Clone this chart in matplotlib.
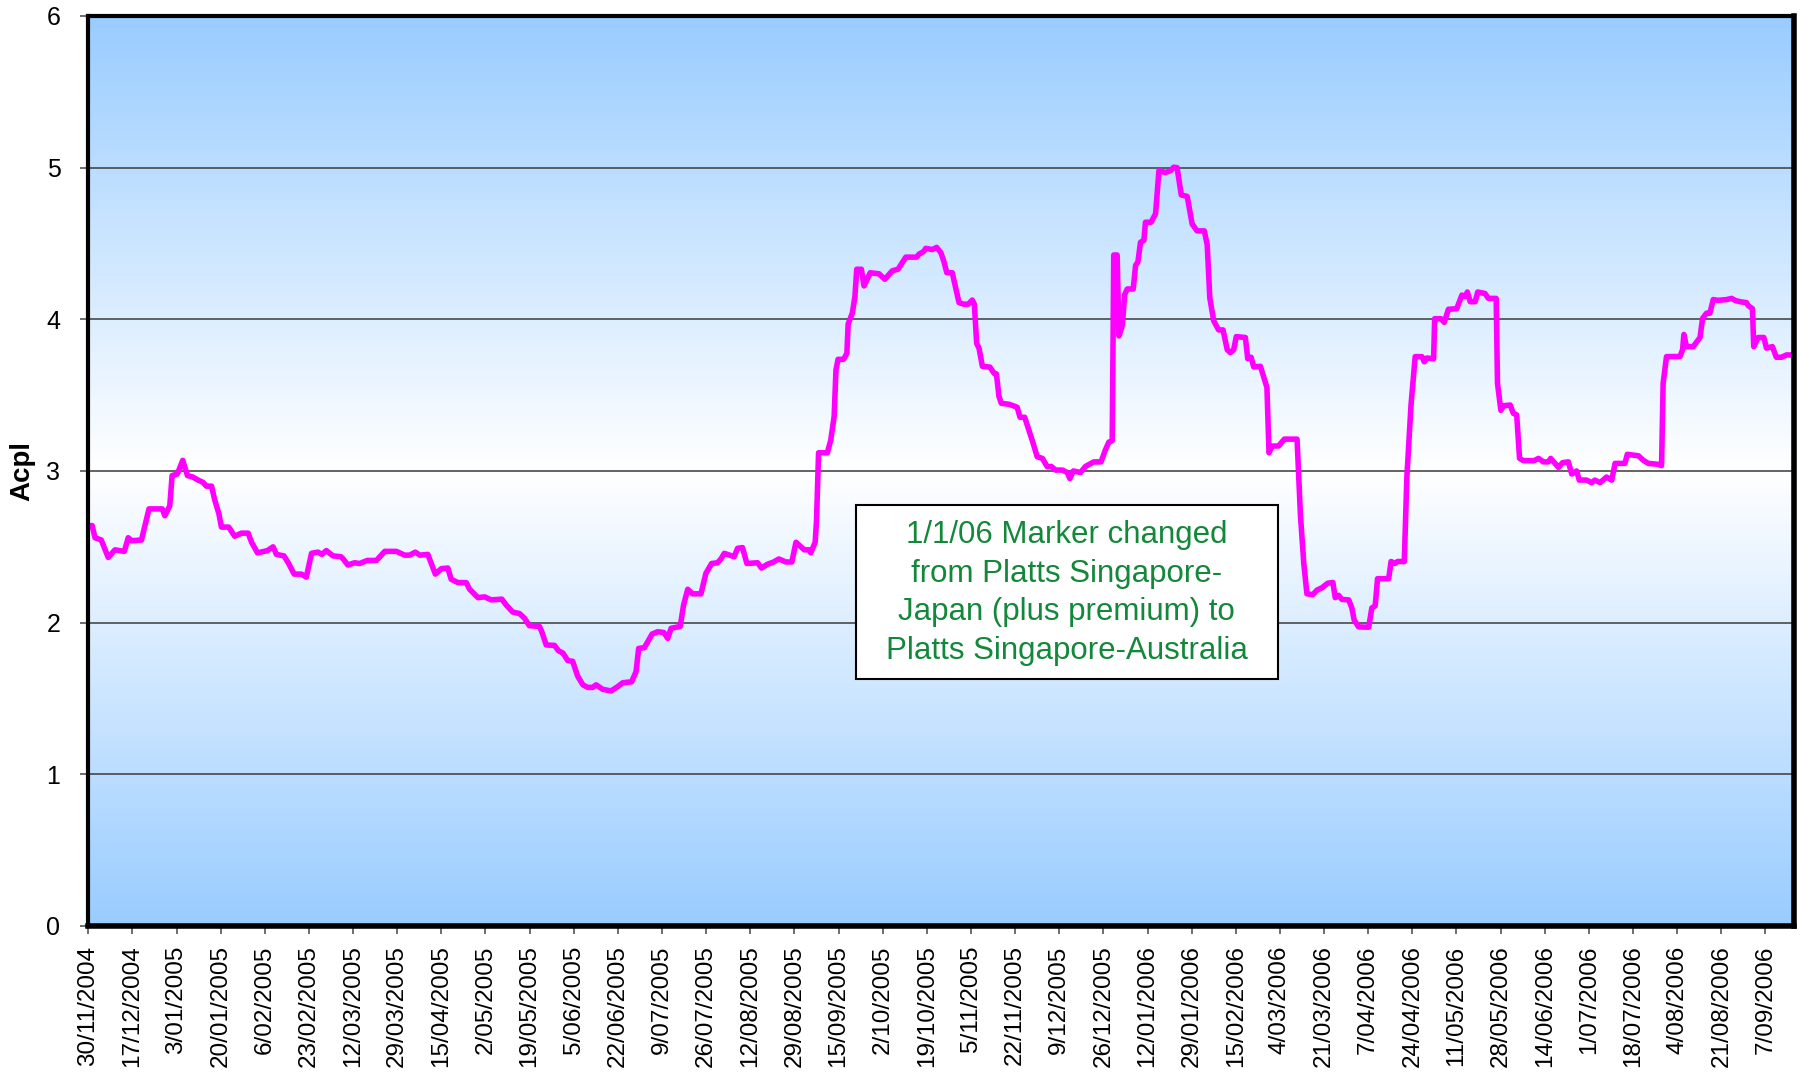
import datetime as dt
import numpy as np
import matplotlib
matplotlib.use("Agg")
import matplotlib.pyplot as plt
from matplotlib.colors import LinearSegmentedColormap
from matplotlib.patches import Rectangle

plt.rcParams['font.family'] = ['Liberation Sans', 'DejaVu Sans']

# days since 30/11/2004 and the Acpl value
start = dt.date(2004, 11, 30)
day = [0, 1.5, 2.6, 5, 7.7, 10.3, 13.9, 15.4, 16.7, 20.5, 23.4, 28.5, 29.5, 31.4,
       32.3, 34.3, 36.4, 38.2, 40.3, 42.3, 44.2, 45.5, 47.5, 48.7, 50.3, 51.3,
       54.1, 56.4, 59, 61.6, 62.9, 65.2, 69, 71.2, 72.5, 75.4, 77.2, 79.3, 82.1,
       84, 86, 88.5, 90, 91.7, 94.3, 97.3, 98.2, 100, 102.6, 104.5, 107.5, 111,
       114.2, 118.7, 121.9, 123.8, 126, 127.7, 130.8, 133.7, 136, 138.5, 139.8,
       142.4, 145.6, 146.9, 150.1, 152.7, 155.2, 159.3, 161, 163.5, 166.1, 168,
       169.9, 173.8, 174.7, 176.4, 179.6, 181.1, 182.8, 184.7, 186.6, 188.5,
       190.5, 192.4, 194.3, 195.6, 198.2, 201.4, 203.9, 205.9, 209.3, 211, 212,
       214.2, 217.2, 219.3, 221.7, 223.2, 224.5, 228, 229.3, 230.9, 232.8, 236,
       237.9, 240.1, 242.4, 243.7, 245, 248.8, 250.1, 252, 253.7, 257.8, 259.3,
       261.6, 264, 266, 268.7, 271, 271.6, 272.6, 273.9, 275.8, 277.7, 278.3,
       280, 280.5, 281.3, 284.7, 286, 287.3, 288, 288.8, 290.9, 292.2, 292.7,
       294.3, 295.3, 296, 297.8, 298.8, 301.2, 304.6, 306.8, 309.7, 311.9, 314.9,
       319.1, 320, 321.7, 322.6, 325.1, 326.8, 328.4, 329.6, 330.7, 332.8, 335.4,
       337.1, 339, 340.5, 341.3, 342.2, 343.1, 344.4, 347.3, 348.9, 349.8, 350.8,
       351.7, 354.6, 356.3, 357.8, 358.9, 360.7, 362.3, 364, 365.5, 367.5, 369.4,
       370.9, 372.6, 375.2, 377.1, 378.1, 379.4, 382.2, 384.1, 387.3, 390.1,
       391.8, 393.1, 394.4, 395.0, 396.3, 397.0, 398.3, 399.2, 400.2, 402.5,
       403.4, 404.3, 405.3, 406.6, 407.2, 409.4, 411.1, 412.4, 414.9, 416.9,
       418.1, 419.4, 421.0, 423.3, 425.2, 427.1, 429.9, 431.0, 432.0, 433.5,
       435.4, 437.1, 438.7, 439.9, 441.2, 442.2, 445.7, 446.6, 447.9, 448.9,
       451.5, 454.0, 454.8, 456.0, 458.5, 460.7, 465.6, 466.9, 468.2, 469.4,
       471.7, 473.3, 475.2, 477.4, 479.4, 480.3, 481.6, 482.9, 485.5, 486.7,
       487.6, 489.3, 493.2, 494.4, 495.7, 496.6, 500.9, 501.8, 503.4, 504.3,
       506.9, 507.9, 509.5, 511.1, 513.7, 514.6, 515.6, 518.2, 518.6, 521.0,
       522.3, 523.9, 527.1, 529.1, 530.3, 531.2, 532.3, 534.2, 535.2, 538,
       539.3, 542.3, 542.8, 544.1, 545.1, 547.7, 548.9, 550.2, 551.3, 552.8,
       556.9, 558.6, 560.5, 562.4, 563.3, 566.3, 567.9, 570.1, 571.4, 573.3,
       574.3, 577.1, 579.1, 580.3, 582.3, 584.8, 586.8, 588.1, 591.9, 592.8,
       597.1, 599, 600.9, 604.7, 606, 606.6, 607.9, 613.1, 614.1, 614.6, 615.6,
       618.2, 620.8, 621.8, 623.3, 624.6, 625.9, 627.8, 631, 633, 634.3, 636.2,
       638.7, 639.4, 641, 641.5, 643.2, 645.4, 646.4, 648.7, 650.2, 652.2,
       654.1, 656]
acpl = [2.64, 2.64, 2.56, 2.545, 2.43, 2.48, 2.47, 2.56, 2.54, 2.545, 2.75, 2.75,
        2.705, 2.77, 2.97, 2.98, 3.07, 2.97, 2.96, 2.94, 2.925, 2.90, 2.90, 2.81,
        2.72, 2.63, 2.63, 2.57, 2.59, 2.59, 2.53, 2.46, 2.475, 2.50, 2.45, 2.44,
        2.39, 2.32, 2.32, 2.30, 2.457, 2.465, 2.45, 2.475, 2.44, 2.435, 2.42,
        2.38, 2.395, 2.39, 2.41, 2.41, 2.47, 2.47, 2.445, 2.445, 2.465, 2.445,
        2.45, 2.32, 2.356, 2.36, 2.286, 2.264, 2.264, 2.22, 2.165, 2.17, 2.15,
        2.155, 2.116, 2.07, 2.06, 2.03, 1.98, 1.975, 1.94, 1.853, 1.85, 1.815,
        1.80, 1.75, 1.745, 1.648, 1.59, 1.573, 1.573, 1.59, 1.56, 1.55, 1.578,
        1.604, 1.61, 1.677, 1.83, 1.835, 1.925, 1.94, 1.935, 1.896, 1.963, 1.975,
        2.116, 2.22, 2.19, 2.19, 2.325, 2.39, 2.395, 2.42, 2.457, 2.435, 2.49,
        2.495, 2.39, 2.395, 2.36, 2.385, 2.40, 2.42, 2.40, 2.40, 2.45, 2.53, 2.51,
        2.48, 2.48, 2.46, 2.53, 2.67, 3.12, 3.12, 3.204, 3.36, 3.666, 3.736,
        3.736, 3.775, 3.97, 4.04, 4.15, 4.33, 4.33, 4.22, 4.307, 4.30, 4.264,
        4.32, 4.33, 4.41, 4.41, 4.43, 4.446, 4.468, 4.46, 4.474, 4.44, 4.38,
        4.307, 4.307, 4.11, 4.10, 4.10, 4.127, 4.10, 3.84, 3.81, 3.69, 3.685,
        3.644, 3.64, 3.49, 3.446, 3.44, 3.43, 3.42, 3.354, 3.354, 3.27, 3.18,
        3.094, 3.083, 3.028, 3.03, 3.006, 3.006, 2.99, 2.95, 3.0, 2.99, 3.03,
        3.06, 3.06, 3.14, 3.19, 3.20, 4.424, 4.424, 3.89, 3.96, 4.163, 4.20, 4.20,
        4.355, 4.378, 4.508, 4.52, 4.64, 4.64, 4.696, 4.98, 4.968, 4.98, 5.003,
        5.0, 4.82, 4.81, 4.628, 4.583, 4.583, 4.49, 4.14, 3.99, 3.93, 3.93, 3.80,
        3.78, 3.80, 3.886, 3.88, 3.74, 3.75, 3.686, 3.69, 3.55, 3.12, 3.164,
        3.165, 3.21, 3.21, 2.71, 2.39, 2.19, 2.185, 2.215, 2.23, 2.26, 2.265,
        2.165, 2.18, 2.153, 2.15, 2.097, 2.017, 1.972, 1.97, 2.097, 2.11, 2.29,
        2.29, 2.403, 2.39, 2.403, 2.403, 2.96, 3.436, 3.754, 3.754, 3.72, 3.745,
        3.74, 4.004, 4.004, 3.98, 4.066, 4.07, 4.16, 4.15, 4.18, 4.116, 4.116,
        4.18, 4.17, 4.138, 4.138, 3.578, 3.40, 3.43, 3.435, 3.38, 3.37, 3.083,
        3.068, 3.068, 3.083, 3.06, 3.06, 3.083, 3.024, 3.055, 3.06, 2.98, 3.0,
        2.94, 2.94, 2.923, 2.94, 2.923, 2.96, 2.94, 3.05, 3.05, 3.11, 3.10, 3.07,
        3.05, 3.044, 3.035, 3.578, 3.754, 3.755, 3.80, 3.90, 3.82, 3.82, 3.88,
        4.006, 4.04, 4.04, 4.13, 4.125, 4.13, 4.138, 4.125, 4.116, 4.11, 4.09,
        4.07, 3.82, 3.88, 3.88, 3.81, 3.82, 3.75, 3.75, 3.765, 3.765]

tick_step = 17
n_ticks = 39
note = ("1/1/06 Marker changed\nfrom Platts Singapore-\n"
        "Japan (plus premium) to\nPlatts Singapore-Australia")

tick_days = [tick_step * k for k in range(n_ticks)]
tick_dates = [start + dt.timedelta(days=d) for d in tick_days]
tick_labels = [f"{d.day}/{d.month:02d}/{d.year}" for d in tick_dates]

fig = plt.figure(figsize=(18.01, 10.72), dpi=100)
ax = fig.add_axes([0.049, 0.1362, 0.9471, 0.8489])

# blue - white - blue background
cmap = LinearSegmentedColormap.from_list('bg', ['#99ccff', '#ffffff', '#99ccff'])
grad = np.linspace(0, 1, 256).reshape(-1, 1)
ax.imshow(grad, cmap=cmap, aspect='auto', extent=[0, 657, 0, 6],
          origin='lower', zorder=0)

for v in range(1, 6):
    ax.axhline(v, color='#3a3a3a', lw=1.1, zorder=1)

ax.plot(day, acpl, color='#ff00ff', lw=4, zorder=3, solid_joinstyle='round')

ax.set_xlim(0, 657)
ax.set_ylim(0, 6)
ax.set_yticks(range(0, 7))
ax.set_yticklabels([str(v) for v in range(0, 7)], fontsize=18)
ax.set_xticks(tick_days)
ax.set_xticklabels(tick_labels, rotation=90, fontsize=17.5, ha='center', va='top')
ax.tick_params(axis='both', direction='out', length=6, width=1.2, color='#555555')
ax.tick_params(axis='x', pad=8)
ax.tick_params(axis='y', pad=14)
ax.set_ylabel('Acpl', fontsize=20, fontweight='bold', labelpad=8)

for side in ['left', 'top']:
    ax.spines[side].set_linewidth(3)
for side in ['right', 'bottom']:
    ax.spines[side].set_linewidth(4)
for s in ax.spines.values():
    s.set_color('black')
    s.set_zorder(5)

box = Rectangle((0.450, 0.2714), 0.2475, 0.1912, transform=ax.transAxes,
                facecolor='white', edgecolor='black', lw=1.5, zorder=4)
ax.add_patch(box)
ax.text(0.5737, 0.366, note, transform=ax.transAxes, ha='center', va='center',
        fontsize=22.5, color='#13873a', linespacing=1.37, zorder=5)

fig.savefig('out.png', dpi=100)
